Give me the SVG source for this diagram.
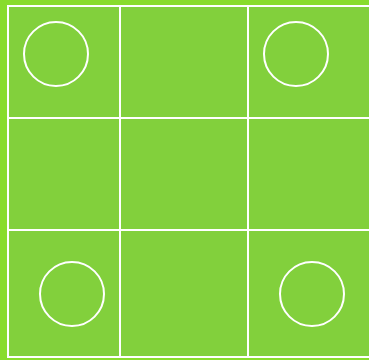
<svg xmlns="http://www.w3.org/2000/svg" width="369" height="360" viewBox="0 0 369 360">
<style>
.cell{fill:#82d03c;stroke:#ffffff;stroke-width:2}
.c{fill:none;stroke:#ffffff;stroke-width:2}
</style>
<rect x="0" y="0" width="369" height="360" fill="#88dc2c"/>
<g id="grid">
<rect class="cell" x="8" y="6" width="112" height="112"/>
<rect class="cell" x="120" y="6" width="128" height="112"/>
<rect class="cell" x="248" y="6" width="130" height="112"/>
<rect class="cell" x="8" y="118" width="112" height="112"/>
<rect class="cell" x="120" y="118" width="128" height="112"/>
<rect class="cell" x="248" y="118" width="130" height="112"/>
<rect class="cell" x="8" y="230" width="112" height="127"/>
<rect class="cell" x="120" y="230" width="128" height="127"/>
<rect class="cell" x="248" y="230" width="130" height="127"/>
</g>
<g id="circles">
<circle class="c" cx="56" cy="54" r="32"/>
<circle class="c" cx="296" cy="54" r="32"/>
<circle class="c" cx="72" cy="294" r="32"/>
<circle class="c" cx="312" cy="294" r="32"/>
</g>
</svg>
